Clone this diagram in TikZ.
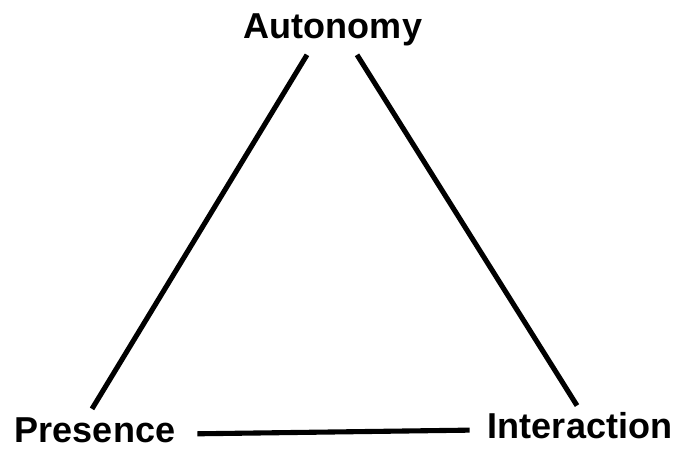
\documentclass[tikz,border=0pt]{standalone}
\usepackage{fontspec}
\setmainfont{Liberation Sans}
\usepackage{tikz}

\begin{document}
\begin{tikzpicture}[x=0.02cm,y=-0.02cm]
\tikzset{lbl/.style={inner sep=0pt,anchor=base,font=\fontsize{20.5}{24}\selectfont\bfseries}}
\useasboundingbox (0,0) rectangle (679,451);
\node[lbl] (autonomy) at (333,38) {Autonomy};
\node[lbl] (presence) at (95,442) {Presence};
\node[lbl] (interaction) at (580,438) {Interaction};
\draw[line width=2.9pt] ([shift={(-3,-8)}]presence.north) -- ([shift={(-26,9)}]autonomy.south);
\draw[line width=2.9pt] ([shift={(24,9)}]autonomy.south) -- ([shift={(-3,-6)}]interaction.north);
\draw[line width=2.9pt] ([shift={(22,4)}]presence.east) -- ([shift={(-18,5)}]interaction.west);
\end{tikzpicture}
\end{document}
